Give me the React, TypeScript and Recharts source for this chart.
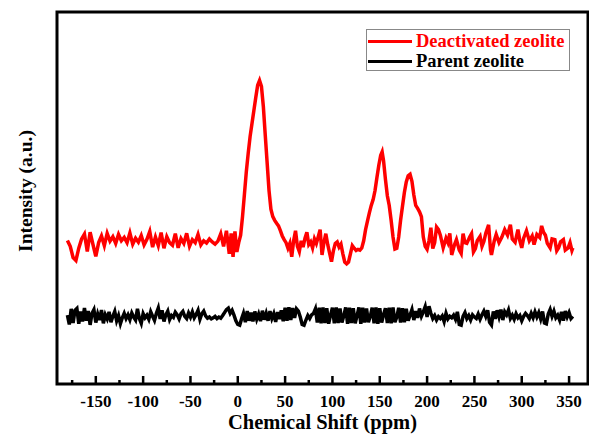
import { LineChart, Line, XAxis, YAxis, ReferenceArea, Legend } from "recharts";

const FONT = '"Liberation Serif", "Times New Roman", serif';

const X_MIN = -191;
const X_MAX = 370;
const Y_MIN = 0;
const Y_MAX = 100;

// major ticks every 50 ppm (labelled), minor ticks in between
const xTicks = [
  -175, -150, -125, -100, -75, -50, -25, 0, 25, 50, 75, 100, 125, 150, 175, 200,
  225, 250, 275, 300, 325, 350,
];

const seriesNames = ["Deactivated zeolite", "Parent zeolite"];
const seriesColors = ["#ff0000", "#000000"];

// [chemical shift (ppm), intensity (a.u.)]
const deactivated: [number, number][] = [
  [-180, 38.6], [-177, 37.0], [-174, 34.0], [-171, 33.2], [-168, 36.5], [-165, 39.0],
  [-162, 40.3], [-159, 35.6], [-156, 40.8], [-153, 37.5], [-150, 34.3], [-147, 38.0],
  [-144, 39.8], [-141, 37.2], [-138, 40.5], [-135, 38.4], [-132, 39.6], [-129, 37.8],
  [-126, 40.2], [-123, 38.5], [-120, 39.4], [-117, 38.0], [-114, 40.6], [-111, 37.6],
  [-108, 39.2], [-105, 38.1], [-102, 39.9], [-99, 37.4], [-96, 38.9], [-93, 41.0],
  [-90, 36.8], [-87, 39.5], [-84, 37.2], [-81, 40.7], [-78, 36.5], [-75, 39.6],
  [-72, 38.0], [-69, 37.3], [-66, 40.4], [-63, 36.6], [-60, 39.1], [-57, 37.8],
  [-54, 40.5], [-51, 37.0], [-48, 38.8], [-45, 38.0], [-42, 40.2], [-39, 37.4],
  [-36, 38.5], [-33, 37.9], [-30, 39.0], [-27, 38.2], [-24, 37.6], [-21, 38.4],
  [-18, 40.4], [-15, 37.0], [-12, 41.2], [-9, 35.0], [-7, 40.5], [-5, 34.2],
  [-3, 41.0], [-1, 35.5], [1, 38.0], [3, 40.0], [5, 45.0], [7, 51.0], [9, 57.0],
  [11, 62.0], [13, 66.5], [15, 70.0], [17, 73.5], [19, 77.0], [21, 80.3], [23, 81.6],
  [25, 80.0], [27, 74.6], [29, 67.0], [31, 59.5], [33, 52.0], [35, 47.0], [37, 45.0],
  [39, 44.0], [41, 43.2], [43, 42.5], [45, 41.2], [47, 39.8], [49, 38.8], [51, 38.0],
  [53, 36.5], [55, 37.8], [57, 34.2], [59, 38.5], [61, 41.2], [63, 37.0], [65, 35.6],
  [67, 38.5], [69, 36.8], [71, 39.2], [73, 40.8], [75, 37.5], [77, 38.2], [79, 36.6],
  [81, 39.0], [83, 37.8], [85, 39.6], [87, 41.5], [89, 34.7], [91, 38.0], [93, 40.4],
  [95, 37.5], [97, 35.2], [99, 32.9], [101, 35.8], [103, 37.8], [105, 38.2],
  [107, 36.8], [109, 37.6], [111, 35.0], [113, 32.8], [115, 32.3], [117, 32.8],
  [119, 35.0], [121, 37.2], [123, 36.5], [125, 35.9], [127, 36.2], [129, 36.0],
  [131, 36.6], [133, 38.5], [135, 41.5], [137, 43.8], [139, 46.0], [141, 48.0],
  [143, 49.6], [145, 52.0], [147, 55.5], [149, 58.8], [151, 61.5], [152.5, 62.4],
  [154, 60.0], [156, 55.0], [158, 50.6], [160, 48.0], [162, 44.0], [164, 39.5],
  [166, 36.3], [168, 36.5], [170, 39.5], [172, 44.0], [174, 47.8], [176, 51.5],
  [178, 54.3], [180, 56.0], [182, 56.4], [184, 54.5], [186, 50.8], [188, 48.0],
  [190, 47.2], [192, 46.3], [194, 45.0], [196, 39.5], [198, 37.0], [200, 36.2],
  [202, 38.5], [204, 42.0], [206, 36.4], [208, 38.0], [210, 42.2], [212, 41.5],
  [214, 40.0], [217, 36.6], [220, 39.2], [222, 38.0], [224, 40.5], [226, 34.7],
  [229, 37.5], [231, 38.8], [234, 36.0], [236, 35.1], [238, 40.4], [240, 38.0],
  [242, 37.8], [245, 39.5], [247, 40.4], [249, 35.5], [251, 36.4], [253, 38.5],
  [256, 39.7], [258, 37.0], [260, 38.3], [262, 40.5], [265, 42.8], [267, 36.0],
  [268, 34.7], [271, 38.5], [273, 40.2], [276, 38.0], [279, 39.5], [282, 41.5],
  [285, 40.0], [288, 42.8], [290, 39.0], [293, 38.1], [296, 41.5], [298, 38.5],
  [300, 36.6], [302, 39.2], [305, 41.2], [308, 38.5], [311, 39.8], [313, 37.5],
  [316, 40.2], [319, 39.4], [321, 42.5], [323, 40.8], [325, 40.0], [327, 37.8],
  [330, 36.6], [332, 39.0], [335, 38.8], [337, 35.8], [339, 36.6], [341, 38.2],
  [344, 38.8], [346, 36.0], [349, 36.6], [351, 38.0], [353, 35.9], [354, 36.6],
];

const parent: [number, number][] = [
  [-180, 18.5], [-178, 16.0], [-176, 20.2], [-174, 16.4], [-172, 19.8], [-170, 20.3],
  [-168, 16.2], [-166, 19.5], [-164, 16.8], [-162, 20.4], [-160, 17.0], [-158, 19.6],
  [-156, 15.9], [-154, 19.0], [-152, 20.0], [-150, 16.5], [-148, 18.8], [-146, 17.2],
  [-144, 19.9], [-142, 16.3], [-140, 18.6], [-138, 17.5], [-136, 19.4], [-134, 16.6],
  [-132, 18.2], [-130, 19.5], [-128, 17.0], [-126, 18.4], [-124, 16.2], [-122, 17.8],
  [-120, 19.0], [-118, 17.6], [-116, 18.6], [-114, 17.3], [-112, 19.1], [-110, 18.0],
  [-108, 17.2], [-106, 20.2], [-104, 17.6], [-102, 16.3], [-100, 18.9], [-98, 17.8],
  [-96, 18.5], [-94, 17.4], [-92, 19.4], [-90, 18.2], [-88, 17.1], [-86, 19.0],
  [-84, 20.4], [-82, 17.5], [-80, 19.8], [-78, 16.8], [-76, 18.6], [-74, 19.6],
  [-72, 17.3], [-70, 18.4], [-68, 17.9], [-66, 19.3], [-64, 18.6], [-62, 17.5],
  [-60, 18.9], [-58, 19.5], [-56, 18.2], [-54, 17.6], [-52, 19.1], [-50, 18.0],
  [-48, 19.4], [-46, 17.8], [-44, 18.7], [-42, 19.8], [-40, 17.4], [-38, 18.9],
  [-36, 19.6], [-34, 18.3], [-32, 17.7], [-30, 18.0], [-28, 17.5], [-26, 17.8],
  [-24, 18.2], [-22, 17.6], [-20, 18.0], [-18, 17.7], [-16, 18.4], [-14, 19.2],
  [-12, 20.0], [-10, 20.4], [-8, 19.0], [-6, 19.8], [-4, 18.5], [-2, 17.0],
  [0, 16.0], [2, 15.8], [4, 17.5], [6, 19.0], [8, 16.6], [10, 19.6], [12, 17.0],
  [14, 19.2], [16, 16.8], [18, 19.5], [20, 17.4], [22, 18.8], [24, 16.9], [26, 19.7],
  [28, 17.3], [30, 19.0], [32, 17.0], [34, 19.6], [36, 17.6], [38, 18.9], [40, 16.7],
  [42, 19.3], [44, 17.5], [46, 19.8], [48, 16.9], [50, 20.5], [52, 17.0], [54, 20.6],
  [56, 17.2], [58, 20.4], [60, 17.8], [62, 20.2], [64, 19.6], [66, 18.0], [68, 16.0],
  [70, 15.8], [72, 17.2], [74, 18.4], [76, 17.6], [78, 18.6], [80, 19.0], [82, 20.2],
  [84, 16.5], [86, 20.5], [88, 16.3], [90, 20.6], [92, 16.4], [94, 20.4], [96, 16.2],
  [98, 18.5], [100, 20.5], [102, 16.3], [104, 20.6], [106, 16.4], [108, 20.3],
  [110, 16.5], [112, 18.3], [114, 20.6], [116, 16.2], [118, 20.5], [120, 16.4],
  [122, 20.4], [124, 16.3], [126, 18.4], [128, 20.6], [130, 16.2], [132, 20.5],
  [134, 16.5], [136, 20.3], [138, 16.6], [140, 18.2], [142, 20.5], [144, 16.3],
  [146, 20.6], [148, 16.2], [150, 20.4], [152, 16.5], [154, 18.6], [156, 20.4],
  [158, 16.4], [160, 20.5], [162, 16.3], [164, 20.6], [166, 16.6], [168, 18.0],
  [170, 20.5], [172, 16.5], [174, 20.4], [176, 16.6], [178, 20.2], [180, 17.0],
  [182, 18.5], [184, 20.0], [186, 17.2], [188, 19.6], [190, 17.8], [192, 20.3],
  [194, 18.2], [196, 19.4], [198, 20.8], [200, 18.0], [202, 20.9], [204, 19.0],
  [206, 17.6], [208, 18.4], [210, 17.2], [212, 18.1], [214, 17.6], [216, 18.3],
  [218, 16.8], [220, 19.0], [222, 17.5], [224, 18.2], [226, 17.8], [228, 18.5],
  [230, 17.4], [232, 19.4], [234, 16.0], [236, 15.8], [238, 18.2], [240, 19.2],
  [242, 17.6], [244, 18.4], [246, 17.2], [248, 18.6], [250, 18.0], [252, 17.6],
  [254, 18.8], [256, 17.4], [258, 18.6], [260, 19.6], [262, 18.2], [264, 19.8],
  [266, 16.6], [268, 15.9], [270, 19.5], [272, 17.5], [274, 19.8], [276, 18.0],
  [278, 20.0], [280, 17.2], [282, 19.4], [284, 18.6], [286, 19.9], [288, 17.6],
  [290, 18.5], [292, 17.4], [294, 18.9], [296, 17.8], [298, 18.4], [300, 17.0],
  [302, 18.2], [304, 19.0], [306, 18.4], [308, 17.6], [310, 19.0], [312, 17.8],
  [314, 19.4], [316, 18.0], [318, 19.2], [320, 17.5], [322, 19.5], [324, 16.4],
  [326, 16.2], [328, 18.8], [330, 20.0], [332, 18.2], [334, 19.6], [336, 17.8],
  [338, 18.5], [340, 17.2], [342, 19.4], [344, 17.0], [346, 19.6], [348, 18.0],
  [350, 19.2], [352, 17.6], [354, 18.2],
];

const toPoints = (rows: [number, number][]) =>
  rows.map(([shift, intensity]) => ({ shift, intensity }));

// ticks point into the plot, labels only on the 50 ppm marks
function ShiftTick({ x, y, payload }: any) {
  const value = payload.value as number;
  const major = value % 50 === 0;
  return (
    <g>
      <line
        x1={x}
        x2={x}
        y1={y}
        y2={y - (major ? 8 : 4)}
        stroke="#000"
        strokeWidth={2.5}
      />
      {major && (
        <text
          x={x}
          y={y + 23}
          textAnchor="middle"
          fontFamily={FONT}
          fontWeight="bold"
          fontSize={17}
          fill="#000"
        >
          {value}
        </text>
      )}
    </g>
  );
}

function YTitle({ viewBox }: any) {
  const cx = viewBox.x + 20;
  const cy = viewBox.y + viewBox.height / 2 - 7;
  return (
    <text
      x={cx}
      y={cy}
      transform={`rotate(-90 ${cx} ${cy})`}
      textAnchor="middle"
      dominantBaseline="central"
      fontFamily={FONT}
      fontWeight="bold"
      fontSize={19.5}
      fill="#000"
    >
      Intensity (a.u.)
    </text>
  );
}

function LegendBox() {
  return (
    <div
      style={{
        border: "1px solid #888",
        background: "#fff",
        width: 204,
        height: 42,
        padding: "1px 0 0 1px",
        boxSizing: "border-box",
        fontFamily: FONT,
        fontWeight: "bold",
        fontSize: 18.5,
        lineHeight: "20px",
        whiteSpace: "nowrap",
      }}
    >
      {seriesNames.map((name, i) => (
        <div key={name} style={{ display: "flex", alignItems: "center" }}>
          <span
            style={{
              display: "inline-block",
              width: 44,
              height: 3,
              background: seriesColors[i],
              marginRight: 4,
            }}
          />
          <span style={{ color: seriesColors[i] }}>{name}</span>
        </div>
      ))}
    </div>
  );
}

export default function App() {
  return (
    <div style={{ position: "absolute", left: 0, top: 0, background: "#fff" }}>
      <LineChart
        width={589}
        height={439}
        margin={{ top: 12, right: 1, bottom: 10, left: 5 }}
      >
        <XAxis
          dataKey="shift"
          type="number"
          domain={[X_MIN, X_MAX]}
          ticks={xTicks}
          interval={0}
          tick={<ShiftTick />}
          tickLine={false}
          axisLine={false}
          tickSize={0}
          tickMargin={0}
          height={45}
          allowDataOverflow
          label={{
            value: "Chemical Shift (ppm)",
            position: "insideBottom",
            offset: 0,
            style: {
              fontFamily: FONT,
              fontWeight: "bold",
              fontSize: 20.5,
              fill: "#000",
            },
          }}
        />
        <YAxis
          type="number"
          domain={[Y_MIN, Y_MAX]}
          tick={false}
          tickLine={false}
          axisLine={false}
          width={52}
          allowDataOverflow
          label={<YTitle />}
        />
        <ReferenceArea
          x1={X_MIN}
          x2={X_MAX}
          y1={Y_MIN}
          y2={Y_MAX}
          fill="none"
          stroke="#000"
          strokeWidth={3}
        />
        <Legend
          layout="vertical"
          align="center"
          verticalAlign="middle"
          wrapperStyle={{ left: 366, top: 29, width: "auto" }}
          content={() => <LegendBox />}
        />
        <Line
          data={toPoints(parent)}
          dataKey="intensity"
          name={seriesNames[1]}
          stroke={seriesColors[1]}
          strokeWidth={3.5}
          dot={false}
          type="linear"
          isAnimationActive={false}
        />
        <Line
          data={toPoints(deactivated)}
          dataKey="intensity"
          name={seriesNames[0]}
          stroke={seriesColors[0]}
          strokeWidth={3.5}
          dot={false}
          type="linear"
          isAnimationActive={false}
        />
      </LineChart>
    </div>
  );
}
